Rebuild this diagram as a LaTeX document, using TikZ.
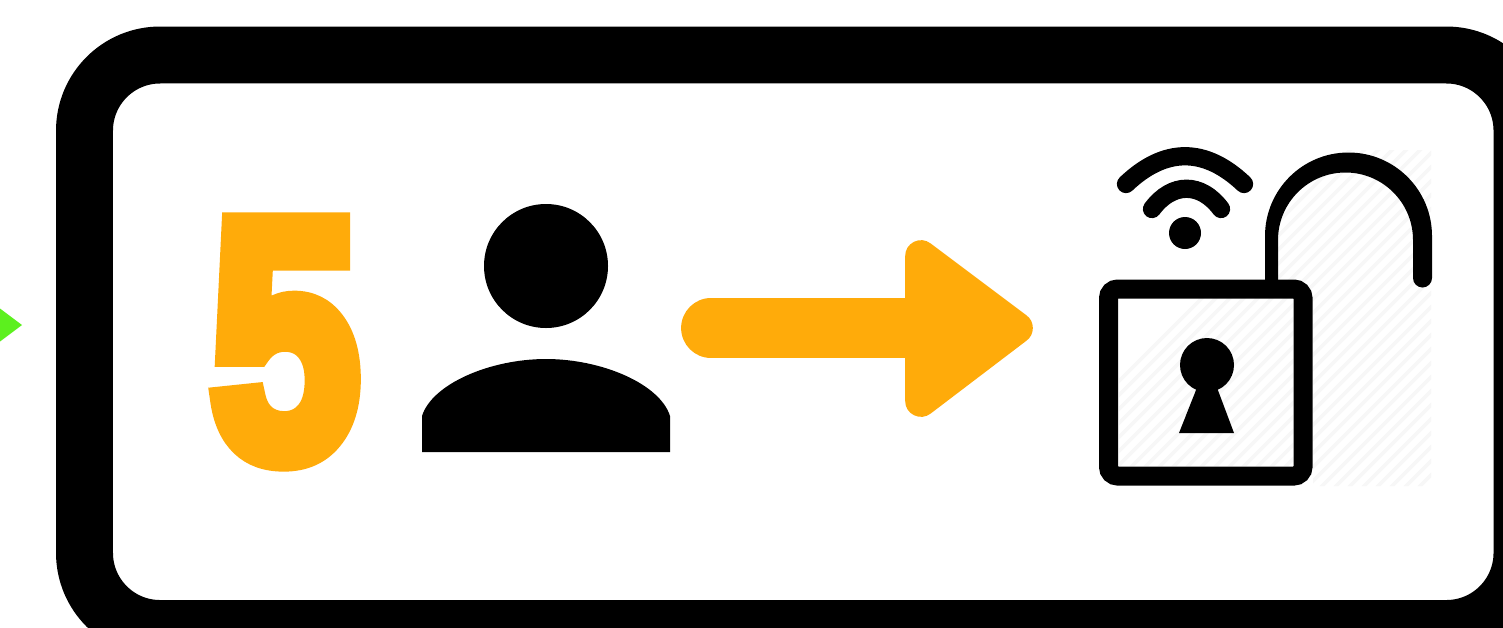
\documentclass[tikz,border=0pt]{standalone}
\usepackage{xcolor}
\usepackage{fontspec}
\usepackage{graphicx}
\usetikzlibrary{arrows.meta, positioning, calc}
\newfontfamily\heavyfont[FakeBold=7]{Liberation Sans Bold}
\definecolor{amber}{HTML}{FFAB0A}
\definecolor{limegreen}{HTML}{5CF01E}

\begin{document}
\begin{tikzpicture}[
    x=0.01cm, y=-0.01cm,
    frame/.style={draw=black, line width=16.2pt, rounded corners=21.5pt},
    icon/.style={draw=black, line width=5.4pt},
    wave/.style={draw=black, line width=5.2pt, line cap=round},
    hatch/.style={black!3, line width=1pt}
]
\useasboundingbox (0,0) rectangle (1503,627);
\clip (0,0) rectangle (1503,627);
\fill[white] (0,0) rectangle (1503,627);

% ---- green pointer on the left ----
\fill[limegreen] (-10,301) -- (22,325) -- (-10,349) -- cycle;

% ---- outer frame (runs off the page) ----
\draw[frame] (84.5,55) rectangle (1522,628.5);

% ---- digit ----
\node[inner sep=0pt, text=amber] (five) at (285,342)
    {\resizebox{42pt}{66pt}{\heavyfont 5}};

% ---- person ----
\fill[black] (546,266) circle (62);
\fill[black] (422,452) -- (422,416) .. controls (432,384) and (490,359) .. (546,359)
    .. controls (602,359) and (660,384) .. (670,416) -- (670,452) -- cycle;

% ---- arrow ----
\coordinate (tail) at (711,328);
\coordinate (neck) at (920,328);
\draw[amber, line width=17pt, line cap=round] (tail) -- (neck);
\fill[amber, draw=amber, line width=9pt, line join=round]
    (921,256) -- (1017,328) -- (921,401) -- cycle;

% ---- hatching behind the lock ----
\begin{scope}
\clip (1119,298) rectangle (1293,466) (1278,150) rectangle (1431,289) (1313,289) rectangle (1431,486);
\foreach \x in {1000,1014,...,1840} {
    \draw[hatch] (\x,500) -- (\x+360,140);
}
\end{scope}

% ---- lock ----
\draw[icon, rounded corners=2.6pt] (1108.5,289) rectangle (1303,476);
\fill[black] (1265,285) -- (1265,236) arc[start angle=180, end angle=360, radius=83.5]
    -- (1432,278) arc[start angle=0, end angle=180, radius=9.5]
    -- (1413,240) arc[start angle=360, end angle=180, radius=67.5]
    -- (1278,285) -- cycle;
\fill[black] (1207,365) circle (27);
\fill[black] (1198,385) -- (1216,385) -- (1234,433) -- (1179,433) -- cycle;

% ---- wifi ----
\draw[wave] (1126,184) .. controls (1165,147) and (1205,147) .. (1244,184);
\draw[wave] (1152,209) .. controls (1172,182) and (1201,182) .. (1221,209);
\fill[black] (1185,233) circle (16);

\end{tikzpicture}
\end{document}
